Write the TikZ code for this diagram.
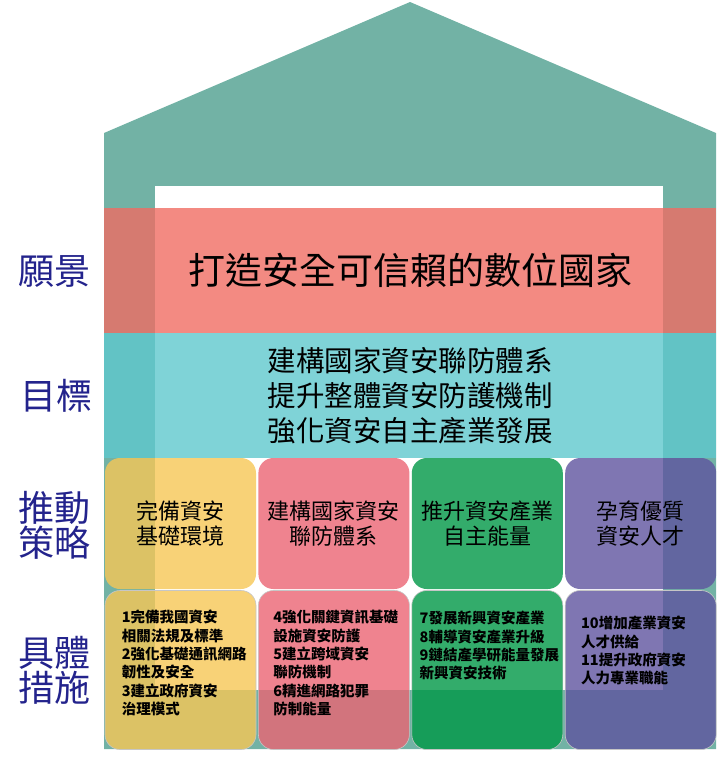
\documentclass[tikz,border=0pt]{standalone}
\usepackage{fontspec}
\newfontfamily\cjk{Noto Sans CJK TC}
\usetikzlibrary{positioning}
\definecolor{HouseGreen}{HTML}{72B2A5}
\definecolor{VisionRed}{RGB}{240,109,99}
\definecolor{GoalTeal}{RGB}{95,200,206}
\definecolor{PillarYellow}{RGB}{247,199,86}
\definecolor{PillarPink}{RGB}{235,101,115}
\definecolor{PillarGreen}{RGB}{0,152,70}
\definecolor{PillarPurple}{RGB}{95,84,159}
\definecolor{LabelBlue}{RGB}{35,35,140}

\begin{document}
\begin{tikzpicture}[x=1pt,y=-1pt,
  band/.style={minimum width=612pt,minimum height=125pt,inner sep=0pt,fill opacity=0.8,text opacity=1,align=center},
  pillar/.style={rounded corners=15pt,minimum width=151pt,minimum height=131pt,inner sep=0pt,fill opacity=0.8,text opacity=1,align=center,font=\cjk\fontsize{22}{25}\selectfont},
  action/.style={pillar,minimum height=159pt,draw=gray!45,line width=0.6pt},
  actiontext/.style={align=left,inner sep=0pt,font=\cjk\bfseries\fontsize{14.5}{18.3}\selectfont},
  side/.style={text=LabelBlue,align=center,font=\cjk\fontsize{36}{35}\selectfont}]
  \useasboundingbox (0,0) rectangle (728,758);
  \fill[HouseGreen] (104,133) -- (410,2) -- (716,133) -- (716,749) -- (104,749) -- cycle;
  \fill[white] (155,186) rectangle (663,690);

  \node[band,fill=VisionRed,font=\cjk\fontsize{37}{37}\selectfont] (vision) at (410,270.5) {打造安全可信賴的數位國家};
  \node[band,fill=GoalTeal,font=\cjk\fontsize{28.5}{35}\selectfont,below=0pt of vision] (goal) {建構國家資安聯防體系\\提升整體資安防護機制\\強化資安自主產業發展};

  \node[pillar,fill=PillarYellow] (s1) at (180.5,523.5) {完備資安\\基礎環境};
  \node[pillar,fill=PillarPink,right=2pt of s1] (s2) {建構國家資安\\聯防體系};
  \node[pillar,fill=PillarGreen,right=2pt of s2] (s3) {推升資安產業\\自主能量};
  \node[pillar,fill=PillarPurple,right=2pt of s3] (s4) {孕育優質\\資安人才};

  \node[action,fill=PillarYellow,below=1pt of s1] (m1) {};
  \node[action,fill=PillarPink,below=1pt of s2] (m2) {};
  \node[action,fill=PillarGreen,below=1pt of s3] (m3) {};
  \node[action,fill=PillarPurple,below=1pt of s4] (m4) {};

  \node[actiontext,below right=20pt and 17pt of m1.north west] (t1) {1完備我國資安\\相關法規及標準\\2強化基礎通訊網路\\韌性及安全\\3建立政府資安\\治理模式};
  \node[actiontext,below right=20pt and 15pt of m2.north west] (t2) {4強化關鍵資訊基礎\\設施資安防護\\5建立跨域資安\\聯防機制\\6精進網路犯罪\\防制能量};
  \node[actiontext,below right=21pt and 8pt of m3.north west] (t3) {7發展新興資安產業\\8輔導資安產業升級\\9鏈結產學研能量發展\\新興資安技術};
  \node[actiontext,below right=26pt and 16pt of m4.north west] (t4) {10增加產業資安\\人才供給\\11提升政府資安\\人力專業職能};

  \node[side] (lvision) at (55,271) {願景};
  \node[side] (lgoal) at (56,396) {目標};
  \node[side] (lstrategy) at (55,525) {推動\\策略};
  \node[side] (laction) at (55,670) {具體\\措施};
\end{tikzpicture}
\end{document}
